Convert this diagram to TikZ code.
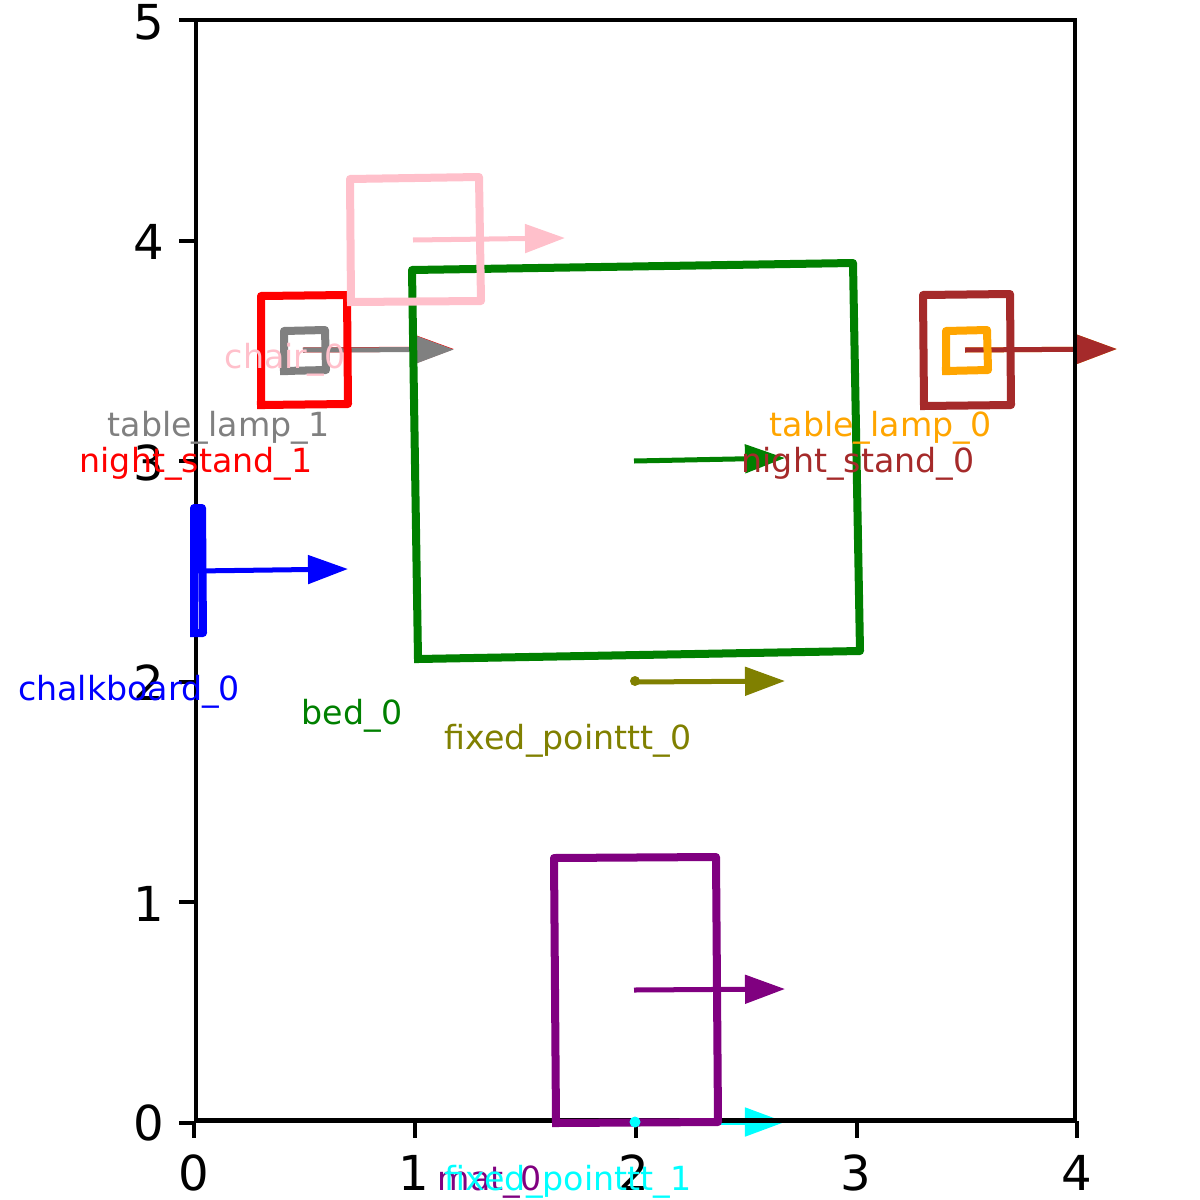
\documentclass[tikz,border=0pt]{standalone}
\usepackage{fontspec}
\setmainfont{DejaVu Sans}
\usetikzlibrary{arrows.meta}
\definecolor{chairpink}{HTML}{FFC0CB}
\definecolor{standbrown}{HTML}{A52A2A}
\definecolor{lamporange}{HTML}{FFA500}
\definecolor{fixedolive}{HTML}{808000}
\definecolor{fixedcyan}{HTML}{00FFFF}
\definecolor{matpurple}{HTML}{800080}
\definecolor{bedgreen}{HTML}{008000}
\definecolor{lampgray}{HTML}{808080}

\begin{document}
\begin{tikzpicture}[
    x=0.01cm, y=-0.01cm,
    spine/.style={draw=black, line width=0.45mm, line cap=rect},
    axistick/.style={draw=black, line width=0.42mm},
    ticklabel/.style={inner sep=0pt, anchor=base, font=\fontsize{13.7pt}{16pt}\selectfont},
    box/.style={line width=0.8mm, line join=round, line cap=rect},
    heading/.style={line width=0.5mm, -{Triangle[length=4mm, width=2.8mm]}},
    objname/.style={inner sep=0pt, anchor=base, font=\fontsize{9.45pt}{12pt}\selectfont}
]
    \useasboundingbox (0,0) rectangle (1200,1200);

    % heading arrows
    \coordinate (chairtail) at (413,240);
    \coordinate (chairtip) at (565,238);
    \coordinate (standonetail) at (303,350);
    \coordinate (standonetip) at (454,349);
    \coordinate (lamponetail) at (303,350);
    \coordinate (lamponetip) at (454,349.5);
    \coordinate (bedtail) at (634,461);
    \coordinate (bedtip) at (785,458);
    \coordinate (boardtail) at (196,571);
    \coordinate (boardtip) at (348,569);
    \coordinate (lampzerotail) at (965,350);
    \coordinate (lampzerotip) at (1117,349);
    \coordinate (standzerotail) at (965,350);
    \coordinate (standzerotip) at (1117,349);
    \coordinate (fixedzerotail) at (635,682);
    \coordinate (fixedzerotip) at (785,681);
    \coordinate (mattail) at (634,990);
    \coordinate (mattip) at (785,989);
    \coordinate (fixedonetail) at (635,1122);
    \coordinate (fixedonetip) at (785,1122);

    \draw[heading, chairpink] (chairtail) -- (chairtip);
    \draw[heading, red] (standonetail) -- (standonetip);
    \draw[heading, lampgray] (lamponetail) -- (lamponetip);
    \draw[heading, bedgreen] (bedtail) -- (bedtip);
    \draw[heading, blue] (boardtail) -- (boardtip);
    \draw[heading, lamporange] (lampzerotail) -- (lampzerotip);
    \draw[heading, standbrown] (standzerotail) -- (standzerotip);
    \draw[heading, fixedolive] (fixedzerotail) -- (fixedzerotip);
    \draw[heading, matpurple] (mattail) -- (mattip);
    \draw[heading, fixedcyan] (fixedonetail) -- (fixedonetip);

    % axes
    \draw[spine] (196,20) rectangle (1075,1120.5);
    \draw[axistick] (194,1121) -- (194,1138);
    \draw[axistick] (415,1121) -- (415,1138);
    \draw[axistick] (636,1121) -- (636,1138);
    \draw[axistick] (857,1121) -- (857,1138);
    \draw[axistick] (1077,1121) -- (1077,1138);
    \draw[axistick] (196,1123) -- (179,1123);
    \draw[axistick] (196,902) -- (179,902);
    \draw[axistick] (196,682) -- (179,682);
    \draw[axistick] (196,461) -- (179,461);
    \draw[axistick] (196,241) -- (179,241);
    \draw[axistick] (196,20) -- (179,20);
    \node[ticklabel] (xzero) at (194,1190) {0};
    \node[ticklabel] (xone) at (414,1190) {1};
    \node[ticklabel] (xtwo) at (634,1190) {2};
    \node[ticklabel] (xthree) at (856,1190) {3};
    \node[ticklabel] (xfour) at (1077,1190) {4};
    \node[ticklabel] (yzero) at (149,1140) {0};
    \node[ticklabel] (yone) at (149,921) {1};
    \node[ticklabel] (ytwo) at (149,700) {2};
    \node[ticklabel] (ythree) at (149,480) {3};
    \node[ticklabel] (yfour) at (149,259) {4};
    \node[ticklabel] (yfive) at (149,39) {5};

    % objects
    \draw[box, red] (261,405) -- (261,296) -- (347,295) -- (348,404) -- (261,405);
    \draw[box, lampgray] (284,371) -- (284,331) -- (325,330) -- (326,370) -- (284,371);
    \draw[box, bedgreen] (418,659) -- (412,270) -- (853,263) -- (860,651) -- (418,659);
    \draw[box, chairpink] (351,302) -- (350,179) -- (479,177) -- (481,301) -- (351,302);
    \draw[box, blue] (194,633) -- (194,508) -- (202,508) -- (203,633) -- (194,633);
    \draw[box, standbrown] (924,406) -- (923,295) -- (1010,294) -- (1011,405) -- (924,406);
    \draw[box, lamporange] (946,371) -- (946,331) -- (987,330) -- (988,370) -- (946,371);
    \draw[box, matpurple] (556,1123) -- (554,858) -- (716,857) -- (718,1122) -- (556,1123);
    \fill[fixedolive] (635,681) circle (5);
    \fill[fixedcyan] (635,1122) circle (5.5);

    % names
    \node[objname, text=chairpink] (chairname) at (285,368) {chair\_0};
    \node[objname, text=lampgray] (lamponename) at (218.5,436) {table\_lamp\_1};
    \node[objname, text=red] (standonename) at (196,472) {night\_stand\_1};
    \node[objname, text=blue] (boardname) at (129,700) {chalkboard\_0};
    \node[objname, text=bedgreen] (bedname) at (352,724) {bed\_0};
    \node[objname, text=fixedolive] (fixedzeroname) at (568,749) {fixed\_pointtt\_0};
    \node[objname, text=lamporange] (lampzeroname) at (880.5,436) {table\_lamp\_0};
    \node[objname, text=standbrown] (standzeroname) at (858,472) {night\_stand\_0};
    \node[objname, text=matpurple] (matname) at (489.5,1190) {mat\_0};
    \node[objname, text=fixedcyan] (fixedonename) at (568,1190) {fixed\_pointtt\_1};
\end{tikzpicture}
\end{document}
